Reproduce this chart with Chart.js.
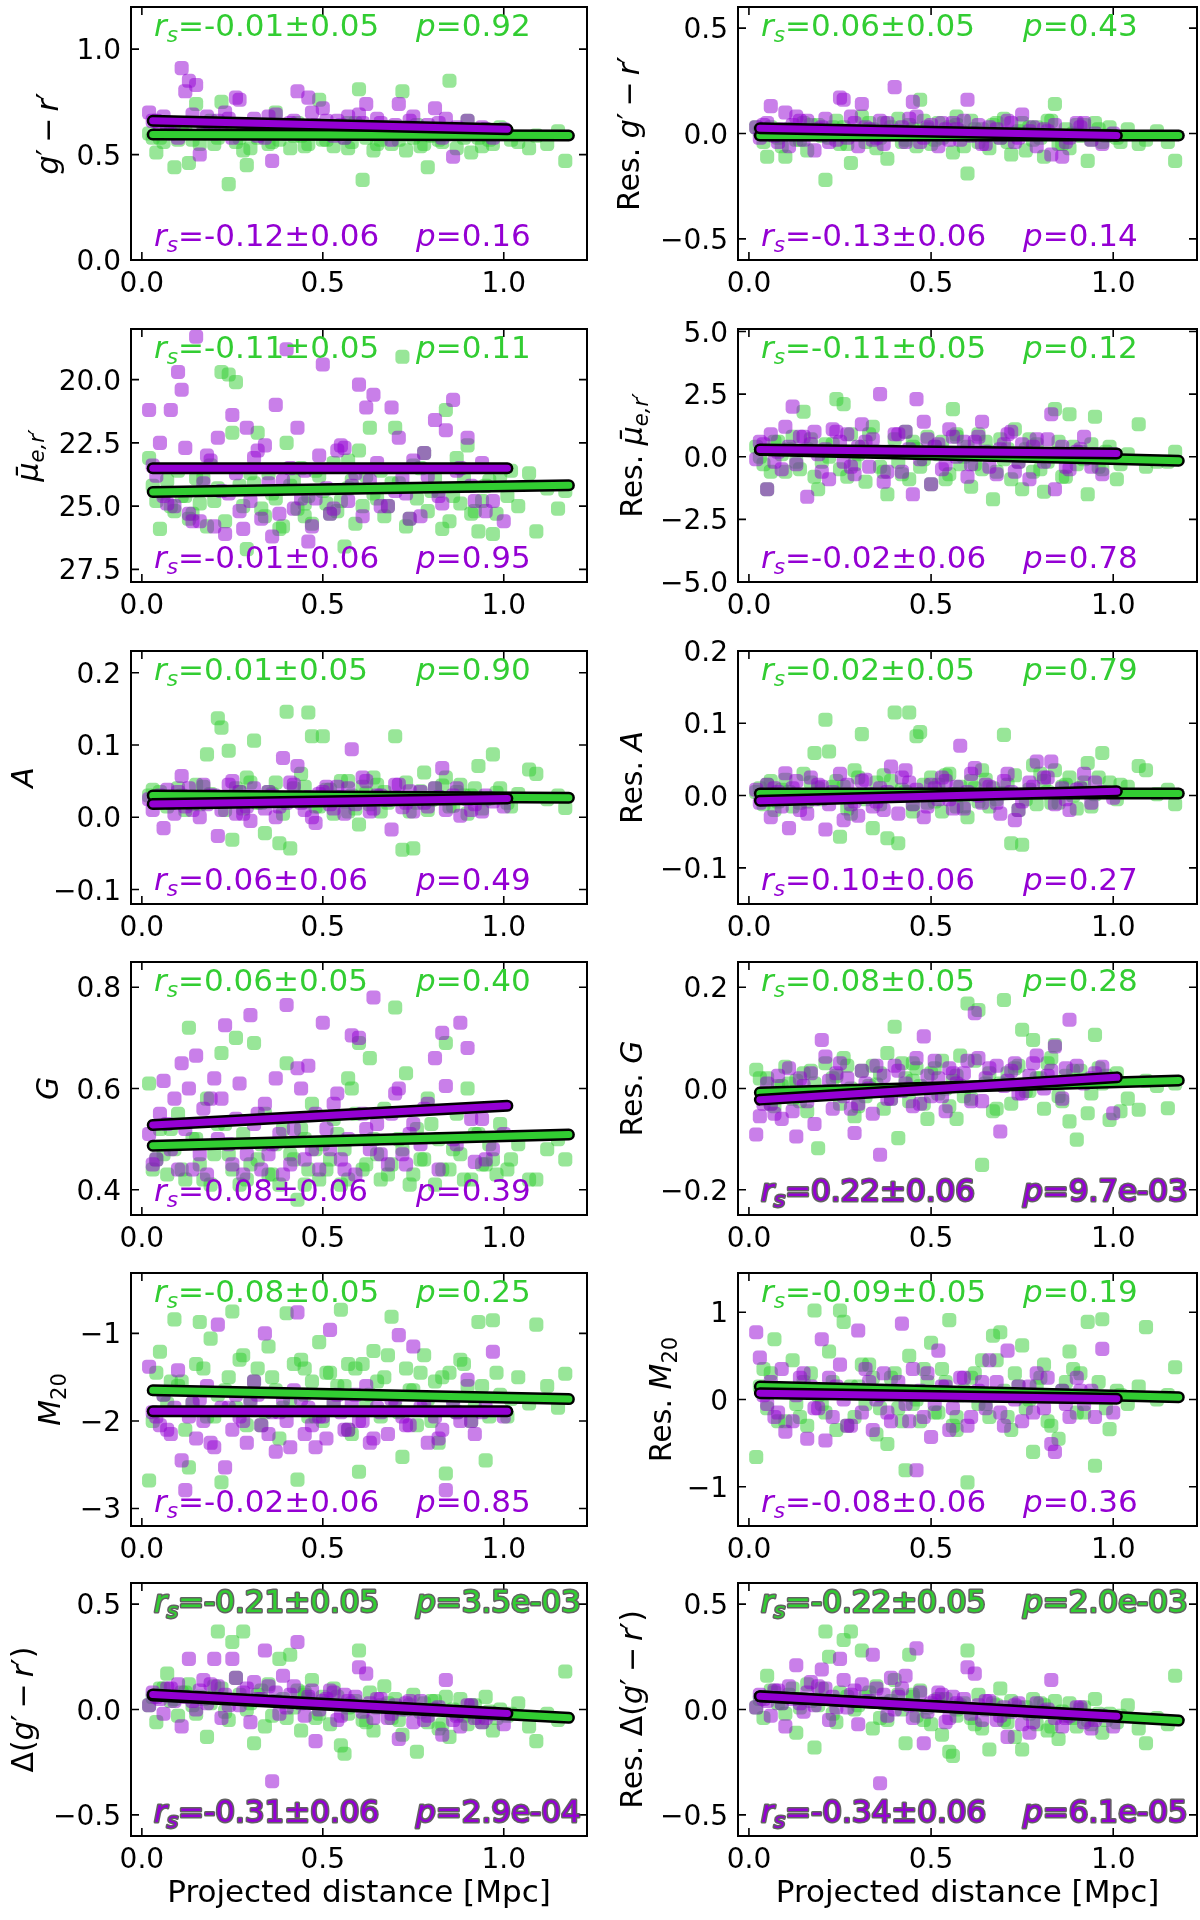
<!DOCTYPE html>
<html>
<head>
<meta charset="utf-8">
<script src="https://cdn.jsdelivr.net/npm/chart.js@4.4.1/dist/chart.umd.min.js"></script>
<style>
html, body { margin: 0; padding: 0; background: #fff; }
#fig { position: relative; width: 1200px; height: 1920px; overflow: hidden; background: #fff; }
#fig canvas { position: absolute; }
</style>
</head>
<body>
<div id="fig"></div>
<script>
// projected distance [Mpc] of each galaxy (same for every panel)
const GX = [0.02,0.04,0.05,0.07,0.09,0.10,0.12,0.13,0.15,0.16,
            0.18,0.19,0.21,0.22,0.24,0.25,0.26,0.28,0.29,0.31,
            0.32,0.34,0.35,0.37,0.38,0.40,0.41,0.43,0.44,0.46,
            0.47,0.49,0.50,0.52,0.53,0.55,0.56,0.58,0.60,0.61,
            0.63,0.64,0.66,0.67,0.69,0.70,0.72,0.73,0.75,0.76,
            0.78,0.79,0.81,0.82,0.84,0.85,0.87,0.88,0.90,0.91,
            0.93,0.95,0.97,0.99,1.01,1.04,1.07,1.09,1.12,1.15,
            1.17,0.57,
            0.11,0.14,0.17,0.20,0.23,0.27,0.30,0.33,0.36,0.39,
            0.42,0.45,0.48,0.51,0.54,0.57,0.59,0.62,0.65,0.68,
            0.71,0.74,0.77,0.80,0.83,0.86,0.89,0.92,0.94,0.96,
            0.98,0.06,0.08,0.03,1.02,0.45];
const PX = [0.02,0.03,0.05,0.06,0.08,0.09,0.10,0.11,0.12,0.13,
            0.15,0.16,0.17,0.18,0.20,0.21,0.22,0.23,0.25,0.26,
            0.27,0.29,0.30,0.31,0.33,0.34,0.36,0.37,0.39,0.40,
            0.42,0.43,0.45,0.46,0.48,0.50,0.52,0.54,0.56,0.58,
            0.60,0.62,0.64,0.66,0.69,0.71,0.73,0.75,0.77,0.79,
            0.81,0.83,0.84,0.86,0.88,0.90,0.92,0.94,0.97,1.00,
            0.04,0.07,0.14,0.19,0.24,0.28,0.32,0.35,0.38,0.41,
            0.44,0.47,0.49,0.51,0.53,0.55,0.57,0.59,0.61,0.63,
            0.65,0.68,0.70,0.72,0.74,0.78,0.82,0.87,0.91,0.95];

// x ends of the fitted lines
const FIT_XG = [0.03, 1.18];
const FIT_XP = [0.03, 1.01];

// g'-r'
const grG = [0.60,0.51,0.58,0.62,0.44,0.57,0.63,0.46,0.74,0.55,
             0.60,0.66,0.58,0.75,0.36,0.62,0.56,0.52,0.45,0.64,
             0.58,0.61,0.55,0.70,0.57,0.62,0.53,0.65,0.59,0.55,
             0.63,0.76,0.57,0.60,0.54,0.62,0.58,0.56,0.81,0.38,
             0.60,0.52,0.57,0.63,0.55,0.60,0.80,0.52,0.58,0.64,
             0.55,0.44,0.60,0.57,0.62,0.85,0.53,0.60,0.66,0.51,
             0.58,0.62,0.55,0.63,0.60,0.56,0.53,0.59,0.55,0.61,
             0.47,0.65,
             0.62,0.57,0.60,0.55,0.63,0.58,0.53,0.61,0.56,0.64,
             0.59,0.54,0.62,0.57,0.60,0.53,0.65,0.58,0.55,0.61,
             0.57,0.63,0.54,0.59,0.56,0.62,0.58,0.60,0.54,0.57,
             0.61,0.56,0.62,0.58,0.57,0.63];
const grP = [0.70,0.66,0.62,0.68,0.60,0.65,0.58,0.91,0.80,0.85,
             0.83,0.50,0.64,0.68,0.60,0.66,0.62,0.70,0.58,0.77,
             0.76,0.64,0.60,0.67,0.62,0.58,0.47,0.69,0.63,0.60,
             0.66,0.80,0.62,0.77,0.64,0.72,0.60,0.66,0.58,0.63,
             0.69,0.74,0.61,0.65,0.57,0.74,0.62,0.68,0.60,0.64,
             0.72,0.58,0.67,0.49,0.62,0.66,0.60,0.63,0.58,0.62,
             0.66,0.63,0.69,0.61,0.67,0.64,0.59,0.68,0.62,0.65,
             0.60,0.70,0.63,0.66,0.59,0.64,0.68,0.61,0.65,0.62,
             0.67,0.60,0.64,0.62,0.66,0.61,0.65,0.63,0.60,0.62];
const grFitG = [0.595, 0.59];
const grFitP = [0.66, 0.62];

// Res. g'-r'
const rgrG = [0.03,-0.04,-0.11,0.01,-0.06,-0.11,0.02,-0.03,0.05,-0.08,
              0.00,0.04,-0.22,-0.02,0.06,-0.05,0.03,-0.14,0.01,0.08,
              -0.04,0.02,-0.07,0.05,-0.12,0.00,0.07,-0.03,0.04,-0.06,
              0.16,0.02,-0.05,0.05,-0.02,0.03,-0.09,0.01,-0.19,0.06,
              -0.04,0.02,-0.07,0.04,-0.02,0.07,-0.10,0.00,0.05,-0.08,
              -0.03,0.03,-0.11,0.06,0.14,-0.05,0.02,-0.07,0.04,-0.01,
              -0.13,0.05,-0.04,0.03,-0.02,0.02,-0.05,-0.03,0.01,-0.04,
              -0.13,0.08,
              0.02,-0.03,0.04,-0.01,0.03,-0.05,0.01,0.05,-0.02,0.03,
              -0.04,0.02,0.06,-0.03,0.00,0.04,-0.06,0.02,-0.01,0.05,
              -0.04,0.01,0.03,-0.02,0.06,-0.05,0.00,0.04,-0.03,0.02,
              -0.01,0.03,-0.02,0.01,-0.04,0.00];
const rgrP = [0.03,-0.02,0.05,0.13,-0.04,0.02,0.10,-0.06,0.04,0.08,
              -0.03,0.06,0.00,-0.08,0.03,0.07,-0.04,0.01,0.17,0.16,
              -0.02,0.05,-0.06,0.14,0.02,-0.03,0.06,-0.05,0.01,0.22,
              0.03,-0.04,0.15,0.08,-0.02,0.04,-0.06,0.02,0.05,-0.03,
              0.16,0.00,-0.05,0.03,-0.02,0.06,-0.04,0.09,0.01,-0.06,
              0.02,-0.10,0.04,-0.11,-0.02,0.05,0.05,-0.03,-0.05,0.00,
              0.04,-0.01,0.06,0.02,-0.03,0.08,0.03,-0.02,0.05,0.01,
              0.07,-0.04,0.03,0.00,0.05,-0.03,0.02,0.06,-0.01,0.04,
              -0.05,0.02,0.00,0.05,-0.02,0.03,0.01,-0.04,0.03,0.00];
const rgrFitG = [-0.01, -0.01];
const rgrFitP = [0.025, -0.01];

// mean surface brightness
const muG = [23.1,24.8,25.9,24.0,25.2,23.6,24.6,25.5,23.9,24.9,
             25.8,23.4,24.3,19.7,19.8,22.1,20.1,25.0,26.7,24.1,
             22.1,25.4,23.7,24.7,25.9,22.5,24.2,25.1,23.5,24.6,
             25.7,23.8,24.4,25.3,23.3,24.8,26.6,24.0,22.8,25.0,
             21.9,24.5,23.6,25.4,24.1,21.9,19.1,25.8,23.4,24.7,
             22.9,25.2,23.9,24.4,21.2,25.6,23.1,24.9,22.6,25.3,
             26.0,24.2,26.1,23.8,24.6,25.0,23.7,26.0,24.3,25.1,
             24.4,23.2,
             24.6,25.3,23.9,24.8,25.6,24.2,23.7,25.1,24.5,25.8,
             24.0,25.4,23.6,24.9,25.2,24.3,25.7,23.8,24.7,25.0,
             24.1,25.5,23.5,24.4,25.9,24.6,23.9,25.2,24.8,24.0,
             25.3,24.5,25.0,24.2,23.6,24.9];
const muP = [21.2,23.4,22.5,24.6,21.2,25.0,19.7,20.4,22.7,25.3,
             18.3,25.6,24.1,23.0,25.8,22.3,24.4,26.1,21.4,23.7,
             25.2,21.9,24.8,23.1,25.5,22.6,26.2,21.0,24.0,18.8,
             25.1,21.9,23.6,26.4,24.7,19.4,25.3,22.8,22.7,24.2,
             20.2,21.1,20.6,25.0,21.1,22.3,24.5,23.2,25.4,23.8,
             21.6,24.9,22.0,20.8,23.5,22.3,24.8,23.3,24.8,25.6,
             23.8,24.9,25.6,23.2,24.5,25.9,22.8,24.1,25.3,23.5,
             24.7,25.8,23.0,24.3,25.1,22.6,24.8,23.7,25.4,24.0,
             23.3,25.0,24.4,23.9,25.5,22.9,24.6,23.6,24.2,25.2];
const muFitG = [24.44, 24.18];
const muFitP = [23.5, 23.5];

// Res. mean surface brightness
const rmuG = [0.4,-0.3,-1.3,0.6,0.1,-0.6,0.8,-0.2,1.8,0.3,
              -0.8,-1.3,0.5,0.0,2.3,-0.5,2.1,0.9,-0.3,0.4,
              -1.0,1.2,0.2,-0.6,-1.5,0.7,-0.2,1.0,-0.9,0.3,
              -0.4,0.8,-1.1,0.1,0.6,-0.7,1.9,-0.3,0.4,-1.2,
              0.9,-0.5,0.2,-1.7,0.7,-0.1,-0.9,1.1,-1.3,0.3,
              -0.6,0.5,-1.4,-0.2,1.9,0.6,-0.8,1.7,-0.3,0.2,
              -1.5,1.6,-0.5,0.4,-0.9,0.1,1.3,-0.4,-0.2,-0.2,
              0.2,0.9,
              0.3,-0.5,0.7,-0.2,0.5,-0.8,0.1,0.9,-0.4,0.2,
              -0.7,0.6,-0.1,0.4,-0.9,0.8,0.0,-0.3,0.6,-0.6,
              0.3,-0.2,0.7,-0.5,0.1,-0.8,0.4,-0.1,0.5,-0.4,
              0.2,-0.6,0.6,0.0,-0.3,0.4];
const rmuP = [-0.1,0.6,-1.3,0.9,0.2,-0.5,1.2,0.4,2.0,-0.3,
              0.8,-1.6,0.5,1.0,-0.6,0.3,-0.9,1.1,0.6,-0.2,
              0.9,-0.7,0.4,1.3,-0.4,0.7,2.5,-1.0,0.2,0.9,
              -0.6,1.0,-1.5,2.3,1.4,-1.1,0.5,-0.3,0.8,0.1,
              -0.8,0.6,1.4,-0.4,0.3,0.9,-0.6,0.5,-0.9,0.7,
              -0.2,1.7,-1.3,0.4,-0.5,0.2,0.8,-0.4,-0.7,0.1,
              0.5,-0.2,0.8,0.1,1.0,-0.4,0.6,0.2,-0.6,0.9,
              0.3,-0.1,0.7,0.4,-0.5,1.1,0.0,0.6,-0.3,0.8,
              0.2,-0.7,0.5,1.0,-0.2,0.4,0.7,-0.4,0.3,0.1];
const rmuFitG = [0.27, -0.16];
const rmuFitP = [0.29, 0.13];

// asymmetry A
const aG = [0.030,0.022,0.035,0.015,0.028,0.040,0.010,0.025,0.045,0.018,
            0.087,0.032,0.137,0.124,0.092,-0.031,0.040,0.012,0.055,0.106,
            0.020,-0.022,0.035,0.048,-0.036,0.146,-0.043,0.028,0.060,0.145,
            0.112,0.015,0.112,0.038,0.005,0.050,0.022,0.030,-0.010,0.042,
            0.018,0.055,0.008,0.035,0.025,0.112,-0.045,0.048,-0.043,0.020,
            0.062,0.010,0.040,0.028,0.055,0.015,0.035,0.045,0.005,0.030,
            0.071,0.025,0.087,0.040,0.020,0.032,0.066,0.060,0.025,0.030,
            0.013,0.008,
            0.030,0.018,0.042,0.025,0.010,0.035,0.048,0.020,0.032,0.005,
            0.040,0.022,0.015,0.038,0.028,0.050,0.012,0.033,0.045,0.020,
            0.027,0.008,0.036,0.024,0.044,0.016,0.030,0.040,0.012,0.026,
            0.034,0.028,0.020,0.038,0.015,0.042];
const aP = [0.025,0.010,0.030,-0.015,0.020,0.005,0.035,0.057,0.015,0.040,
            0.028,0.000,0.045,0.018,0.030,-0.026,0.010,0.022,0.050,0.005,
            0.035,0.015,-0.005,0.040,0.025,0.012,0.030,0.000,0.082,0.020,
            0.045,0.071,0.010,0.028,-0.008,0.035,0.018,0.042,0.005,0.094,
            0.025,0.050,0.012,0.030,-0.017,0.045,0.020,0.008,0.035,0.015,
            0.040,0.068,0.010,0.030,0.002,0.025,0.018,0.008,0.022,0.015,
            0.022,0.038,0.010,0.030,0.045,0.005,0.025,0.035,0.015,0.048,
            0.020,0.000,0.032,0.042,0.012,0.028,0.040,0.018,0.055,0.008,
            0.030,0.024,0.045,0.014,0.036,0.020,0.028,0.040,0.010,0.030];
const aFitG = [0.030, 0.027];
const aFitP = [0.0185, 0.026];

// Res. A
const raG = [0.005,-0.012,0.015,-0.020,0.008,0.022,-0.015,0.000,0.030,-0.008,
             0.059,0.010,0.105,0.061,0.020,-0.057,0.012,-0.025,0.035,0.085,
             -0.005,-0.045,0.018,0.028,-0.059,0.115,-0.066,0.005,0.115,0.082,
             0.088,-0.010,0.025,0.015,-0.022,0.030,0.002,0.012,-0.030,0.020,
             -0.008,0.035,-0.015,0.010,0.003,0.084,-0.066,0.028,-0.068,-0.005,
             0.042,-0.012,0.020,0.005,0.035,-0.010,0.015,0.025,-0.018,0.010,
             0.045,0.002,0.059,0.018,-0.005,0.012,0.041,0.035,0.002,0.008,
             -0.012,-0.015,
             0.005,-0.010,0.018,-0.005,0.012,-0.018,0.025,0.000,-0.012,0.020,
             0.008,-0.022,0.015,-0.008,0.028,0.002,-0.015,0.010,0.022,-0.005,
             0.015,-0.020,0.008,0.030,-0.010,0.012,0.000,0.018,-0.015,0.025,
             0.005,0.020,-0.008,0.010,0.015,-0.012];
const raP = [0.008,-0.010,0.015,-0.030,0.005,-0.015,0.031,-0.045,0.010,0.020,
             0.000,-0.025,0.025,-0.005,0.012,-0.047,-0.012,0.005,0.030,-0.034,
             0.015,-0.008,-0.028,0.020,0.002,-0.015,0.010,-0.020,0.040,0.000,
             0.025,0.035,-0.012,0.008,-0.030,0.015,-0.005,0.020,-0.018,0.069,
             0.005,0.038,-0.010,0.012,-0.025,0.030,-0.034,-0.008,0.018,0.047,
             0.025,0.047,-0.012,0.010,-0.020,0.008,0.030,-0.010,0.005,-0.003,
             -0.005,0.010,-0.020,0.015,0.000,-0.012,0.022,-0.008,0.005,-0.025,
             0.018,0.002,-0.015,0.010,0.025,-0.005,0.012,-0.018,0.030,0.000,
             0.015,-0.010,0.020,0.005,-0.020,0.012,0.025,-0.005,0.010,0.018];
const raFitG = [0.003, 0.003];
const raFitP = [-0.007, 0.006];

// Gini G
const gG = [0.61,0.46,0.52,0.43,0.48,0.55,0.42,0.72,0.50,0.45,
            0.58,0.41,0.53,0.67,0.47,0.44,0.70,0.51,0.42,0.69,
            0.46,0.55,0.43,0.49,0.41,0.65,0.47,0.38,0.52,0.44,
            0.57,0.42,0.49,0.46,0.54,0.41,0.48,0.60,0.69,0.44,
            0.66,0.50,0.42,0.56,0.45,0.76,0.48,0.63,0.43,0.52,
            0.46,0.58,0.41,0.50,0.69,0.44,0.55,0.47,0.60,0.42,
            0.51,0.45,0.46,0.53,0.44,0.49,0.42,0.42,0.48,0.50,
            0.46,0.62,
            0.44,0.50,0.42,0.47,0.53,0.41,0.45,0.49,0.43,0.52,
            0.46,0.41,0.48,0.44,0.51,0.42,0.55,0.45,0.47,0.43,
            0.50,0.41,0.46,0.53,0.44,0.48,0.42,0.51,0.45,0.49,
            0.43,0.47,0.52,0.44,0.46,0.50];
const gP = [0.51,0.45,0.55,0.615,0.48,0.58,0.44,0.65,0.52,0.60,
            0.665,0.47,0.56,0.43,0.62,0.50,0.58,0.725,0.45,0.54,
            0.61,0.47,0.745,0.53,0.44,0.57,0.49,0.62,0.43,0.765,
            0.52,0.64,0.46,0.645,0.55,0.73,0.48,0.59,0.44,0.705,
            0.70,0.52,0.78,0.47,0.55,0.60,0.45,0.53,0.49,0.57,
            0.66,0.71,0.605,0.50,0.73,0.68,0.455,0.54,0.48,0.51,
            0.46,0.53,0.44,0.58,0.49,0.43,0.55,0.47,0.51,0.45,
            0.60,0.48,0.44,0.52,0.57,0.46,0.50,0.43,0.55,0.48,
            0.53,0.45,0.59,0.47,0.51,0.56,0.44,0.49,0.54,0.46];
const gFitG = [0.487, 0.509];
const gFitP = [0.528, 0.566];

// Res. G
const rgG = [0.037,-0.010,0.020,-0.035,0.005,0.043,-0.020,0.015,0.030,-0.045,
             0.010,-0.118,0.050,-0.005,0.025,-0.030,0.060,0.000,-0.055,0.035,
             -0.015,0.045,0.008,-0.040,0.070,0.122,-0.098,0.020,-0.025,0.040,
             0.005,-0.060,0.030,-0.010,0.055,-0.035,0.015,0.065,0.168,-0.020,
             0.155,-0.151,0.030,-0.045,0.010,0.175,-0.030,0.040,0.116,-0.005,
             0.096,0.020,-0.040,0.050,0.086,-0.015,0.025,-0.065,-0.101,0.035,
             -0.049,0.106,0.010,-0.062,0.030,-0.020,-0.042,0.015,0.005,-0.039,
             0.010,-0.060,
             0.010,-0.025,0.035,-0.010,0.020,0.045,-0.035,0.005,0.030,-0.020,
             0.050,0.015,-0.030,0.040,0.000,0.025,-0.015,0.055,0.010,-0.040,
             0.030,0.045,-0.005,0.020,0.060,-0.025,0.035,0.015,-0.010,0.040,
             0.025,-0.030,0.005,0.020,-0.045,0.050];
const rgP = [-0.091,-0.055,0.010,-0.030,0.025,-0.060,-0.010,0.040,-0.045,-0.095,
             0.005,-0.025,0.030,-0.070,0.096,0.063,0.015,-0.040,0.050,-0.015,
             0.020,-0.088,-0.030,0.035,0.000,-0.050,-0.131,0.025,-0.020,0.045,
             -0.005,0.010,-0.035,0.060,0.103,-0.015,0.020,-0.045,0.030,0.005,
             0.055,0.149,-0.025,0.040,-0.085,0.015,0.050,-0.010,0.025,0.065,
             0.000,0.035,0.083,-0.020,0.136,0.045,0.010,0.020,0.043,-0.049,
             -0.030,-0.050,0.020,-0.010,0.030,-0.040,0.010,0.045,-0.020,0.035,
             0.000,-0.030,0.025,0.055,-0.015,0.040,0.010,0.030,-0.025,0.060,
             0.020,0.045,0.005,0.035,-0.010,0.050,0.025,0.040,0.015,0.030];
const rgFitG = [-0.008, 0.016];
const rgFitP = [-0.022, 0.022];

// M20
const mG = [-2.68,-1.45,-1.21,-1.80,-0.84,-1.60,-2.10,-2.53,-1.35,-0.87,
            -1.95,-1.06,-1.70,-2.70,-1.50,-0.75,-1.85,-1.25,-2.05,-1.55,
            -1.40,-1.90,-1.15,-1.65,-2.20,-0.77,-1.75,-2.67,-1.30,-1.95,
            -1.55,-1.10,-2.00,-1.45,-1.80,-0.73,-1.60,-2.15,-2.58,-1.35,
            -1.70,-1.20,-1.95,-1.50,-0.81,-1.85,-2.41,-1.40,-1.65,-2.05,
            -1.25,-1.75,-1.55,-2.25,-2.60,-1.45,-1.90,-1.30,-1.60,-2.00,
            -0.87,-2.45,-0.85,-1.70,-1.95,-1.50,-1.80,-0.90,-1.60,-1.85,
            -1.46,-1.35,
            -1.55,-1.80,-1.40,-1.95,-1.65,-1.30,-1.75,-2.05,-1.50,-1.85,
            -1.35,-1.70,-1.95,-1.45,-1.60,-2.10,-1.40,-1.80,-1.55,-1.25,
            -1.90,-1.65,-1.45,-2.00,-1.50,-1.75,-1.35,-1.85,-1.60,-1.95,
            -1.45,-1.70,-1.55,-2.00,-1.75,-1.40];
const mP = [-1.38,-1.90,-2.05,-1.70,-2.15,-1.85,-1.42,-2.45,-2.79,-1.95,
            -2.20,-1.75,-2.00,-1.60,-2.30,-0.90,-1.85,-2.53,-2.10,-1.70,
            -1.95,-2.25,-1.80,-1.55,-2.05,-1.00,-1.90,-2.35,-1.75,-2.00,
            -1.65,-0.76,-2.15,-1.85,-2.30,-1.95,-0.96,-1.70,-2.10,-1.80,
            -2.00,-1.60,-2.20,-1.90,-1.75,-1.02,-2.05,-1.15,-1.85,-2.25,
            -1.95,-2.10,-2.79,-1.80,-2.00,-1.53,-2.15,-1.90,-1.21,-1.95,
            -1.95,-2.10,-1.80,-2.25,-1.85,-2.00,-1.70,-2.15,-1.90,-2.30,
            -1.75,-2.05,-1.95,-2.20,-1.80,-1.90,-2.10,-1.70,-2.00,-2.25,
            -1.85,-2.15,-1.75,-1.95,-2.05,-1.80,-2.20,-1.90,-2.00,-1.85];
const mFitG = [-1.65, -1.75];
const mFitP = [-1.89, -1.89];

// Res. M20
const rmG = [-0.66,0.35,-0.10,0.69,0.10,-0.25,0.45,-0.05,0.20,-0.30,
             1.02,0.05,-0.15,0.55,-0.35,1.02,0.89,0.15,-0.20,0.40,
             -0.05,0.25,-0.40,0.10,-0.51,0.30,-0.10,-0.81,0.50,0.00,
             -0.25,0.20,0.65,-0.15,0.35,0.91,-0.30,0.05,-0.95,0.25,
             -0.05,0.45,-0.20,0.73,0.77,0.10,-0.35,0.30,0.62,-0.10,
             -0.60,0.15,0.40,-0.25,0.05,-0.45,0.20,0.55,-0.15,0.30,
             0.89,-0.76,0.92,-0.34,0.10,-0.05,0.15,0.83,0.00,0.05,
             0.37,-0.20,
             0.10,-0.20,0.30,-0.05,0.20,-0.30,0.15,0.40,-0.10,0.25,
             -0.25,0.05,0.35,-0.15,0.20,-0.35,0.10,0.30,-0.05,0.45,
             -0.20,0.15,0.00,0.25,-0.30,0.10,0.35,-0.15,0.05,0.20,
             -0.10,0.30,-0.25,0.15,0.05,-0.05];
const rmP = [0.77,0.48,-0.05,0.20,-0.15,0.35,-0.37,0.10,-0.25,0.05,
             0.30,-0.45,0.15,-0.10,0.69,-0.47,0.25,-0.20,0.40,0.00,
             -0.30,0.10,0.79,-0.15,0.20,-0.35,0.05,0.30,-0.25,0.10,
             0.87,-0.05,0.35,-0.81,-0.20,-0.43,0.56,0.15,-0.10,0.25,
             -0.30,0.05,0.20,0.45,-0.15,0.56,0.00,-0.25,0.15,0.30,
             -0.10,-0.51,-0.60,0.10,-0.20,0.25,-0.05,0.10,0.58,-0.15,
             0.05,-0.20,0.25,-0.10,0.15,-0.30,0.35,0.00,-0.15,0.20,
             -0.25,0.10,0.30,-0.05,0.15,-0.35,0.05,0.25,-0.20,0.10,
             -0.10,0.20,-0.30,0.05,0.15,-0.15,0.25,-0.05,0.10,-0.20];
const rmFitG = [0.149, 0.027];
const rmFitP = [0.073, 0.008];

// colour gradient residual
const dG = [0.02,-0.06,0.10,0.17,0.05,-0.03,0.08,0.12,-0.02,0.06,
            -0.13,0.03,0.37,0.10,-0.05,0.32,0.15,0.37,0.00,-0.16,
            0.07,-0.08,0.12,0.04,0.24,-0.04,0.26,0.09,-0.10,0.05,
            0.14,-0.02,0.06,-0.07,0.10,-0.17,-0.21,0.03,0.28,-0.05,
            0.08,-0.10,0.02,0.11,-0.04,0.05,-0.12,0.00,0.07,-0.20,
            0.03,-0.06,0.04,-0.09,0.06,-0.13,-0.02,0.05,-0.07,0.02,
            -0.04,0.06,-0.10,0.00,-0.03,0.03,-0.08,-0.15,-0.02,-0.05,
            0.18,0.01,
            0.08,0.02,0.05,0.11,-0.01,0.07,0.03,0.09,-0.03,0.05,
            0.01,0.07,-0.04,0.03,0.06,-0.02,0.04,-0.06,0.01,0.03,
            -0.05,0.02,-0.01,0.04,-0.07,0.00,-0.03,0.02,-0.06,-0.01,
            -0.04,0.10,0.04,0.06,-0.02,0.08];
const dP = [0.02,0.08,0.05,-0.02,0.10,0.04,0.12,-0.08,0.06,0.24,
            0.00,0.09,0.14,0.03,0.24,0.11,-0.04,0.07,0.24,0.15,
            0.02,0.10,-0.06,0.13,0.05,0.28,-0.34,0.08,0.16,0.01,
            0.11,0.32,-0.03,0.06,-0.15,0.04,0.09,-0.05,0.07,0.02,
            0.20,0.17,-0.04,0.05,-0.02,-0.14,0.03,-0.06,0.04,-0.03,
            0.00,-0.12,0.14,-0.05,-0.08,0.02,-0.04,-0.06,-0.02,-0.07,
            0.06,0.10,0.04,0.12,0.02,0.08,0.05,0.11,-0.02,0.07,
            0.03,0.09,0.00,0.05,0.08,-0.03,0.04,0.06,-0.01,0.03,
            0.05,-0.04,0.02,0.00,0.04,-0.05,0.01,-0.03,0.02,-0.04];
const dFitG = [0.066, -0.039];
const dFitP = [0.071, -0.019];

// Res. colour gradient
const rdG = [0.01,-0.04,0.16,0.08,0.03,-0.02,0.10,-0.11,0.05,0.12,
             -0.18,0.02,0.37,0.25,-0.06,0.08,0.33,0.37,0.00,0.28,
             0.06,-0.09,0.11,0.03,-0.05,0.14,0.07,-0.16,0.26,-0.03,
             0.09,0.01,-0.07,0.05,-0.12,-0.20,-0.22,0.02,0.28,-0.04,
             0.07,-0.09,-0.19,0.03,0.10,-0.05,0.04,-0.13,-0.19,0.01,
             0.05,-0.07,0.02,-0.10,0.04,-0.14,-0.03,0.03,-0.08,0.00,
             -0.05,0.05,-0.11,-0.02,-0.06,0.02,-0.09,-0.16,-0.04,-0.07,
             0.16,0.00,
             0.07,0.01,0.04,0.10,-0.02,0.06,0.02,0.08,-0.04,0.04,
             0.00,0.06,-0.05,0.02,0.05,-0.03,0.03,-0.07,0.00,0.02,
             -0.06,0.01,-0.02,0.03,-0.08,-0.01,-0.04,0.01,-0.07,-0.02,
             -0.05,0.09,0.03,0.05,-0.03,0.07];
const rdP = [0.01,0.07,0.04,-0.03,0.09,0.03,-0.08,0.11,0.05,0.21,
             -0.01,0.08,0.13,0.02,0.19,0.10,-0.05,0.06,0.24,0.14,
             0.01,0.09,-0.07,0.12,0.04,0.26,-0.35,0.07,0.15,0.00,
             0.10,0.16,-0.04,0.29,-0.16,0.03,0.08,-0.06,0.06,0.01,
             0.20,0.17,-0.05,0.04,-0.03,-0.13,0.02,-0.07,-0.11,0.03,
             -0.01,0.14,-0.04,-0.08,-0.03,0.01,-0.06,-0.09,-0.03,-0.08,
             0.05,0.09,0.03,0.11,0.01,0.07,0.04,0.10,-0.03,0.06,
             0.02,0.08,-0.01,0.04,0.07,-0.04,0.03,0.05,-0.02,0.02,
             0.04,-0.05,0.01,-0.01,0.03,-0.06,0.00,-0.04,0.01,-0.05];
const rdFitG = [0.063, -0.052];
const rdFitP = [0.063, -0.032];

// Spearman statistics: [green rs, green p, purple rs, purple p]
const ST_GR  = ['-0.01±0.05', '0.92', '-0.12±0.06', '0.16'];
const ST_RGR = ['0.06±0.05', '0.43', '-0.13±0.06', '0.14'];
const ST_MU  = ['-0.11±0.05', '0.11', '-0.01±0.06', '0.95'];
const ST_RMU = ['-0.11±0.05', '0.12', '-0.02±0.06', '0.78'];
const ST_A   = ['0.01±0.05', '0.90', '0.06±0.06', '0.49'];
const ST_RA  = ['0.02±0.05', '0.79', '0.10±0.06', '0.27'];
const ST_G   = ['0.06±0.05', '0.40', '0.08±0.06', '0.39'];
const ST_RG  = ['0.08±0.05', '0.28', '0.22±0.06', '9.7e-03'];
const ST_M   = ['-0.08±0.05', '0.25', '-0.02±0.06', '0.85'];
const ST_RM  = ['-0.09±0.05', '0.19', '-0.08±0.06', '0.36'];
const ST_D   = ['-0.21±0.05', '3.5e-03', '-0.31±0.06', '2.9e-04'];
const ST_RD  = ['-0.22±0.05', '2.0e-03', '-0.34±0.06', '6.1e-05'];

// y labels (mathtext pieces)
const LBL_GR = [{t:'g',it:1},{t:'′'},{t:'\u2009−\u2009'},{t:'r',it:1},{t:'′'}];
const LBL_MU = [{t:'μ\u0304',it:1},{t:'e,r′',it:1,sub:1}];
const LBL_A  = [{t:'A',it:1}];
const LBL_G  = [{t:'G',it:1}];
const LBL_M  = [{t:'M',it:1},{t:'20',sub:1}];
const LBL_D  = [{t:'Δ('}].concat(LBL_GR, [{t:')'}]);
const RES = [{t:'Res. '}];

// layout (pixels)
const PADL = 135, PADR = 12, PADT = 14, PADB = 90;
const COL_LEFT = [131, 738], COL_W = [456, 459];
const ROW_TOP = [7, 329, 651, 962, 1273, 1583], AX_H = 253;
const X_MIN = -0.03, X_MAX = 1.23, X_TICKS = [0, 0.5, 1.0];

const GREEN = '#32cd32', PURPLE = '#9400d3';
const GREEN_A = 'rgba(50,205,50,0.5)', PURPLE_A = 'rgba(148,0,211,0.5)';
const TICK_FS = 28, TEXT_FS = 31, LABEL_FS = 30, XLABEL_FS = 31;

const PANELS = [
  { g: grG,  p: grP,  fg: grFitG,  fp: grFitP,  lim: [0, 1.2],      ticks: [0, 0.5, 1.0], dec: 1, label: LBL_GR, dx: -84, st: ST_GR, bold: [0, 0] },
  { g: rgrG, p: rgrP, fg: rgrFitG, fp: rgrFitP, lim: [-0.6, 0.6],   ticks: [-0.5, 0, 0.5], dec: 1, label: RES.concat(LBL_GR), dx: -110, st: ST_RGR, bold: [0, 0] },
  { g: muG,  p: muP,  fg: muFitG,  fp: muFitP,  lim: [18.0, 28.0],  ticks: [20, 22.5, 25, 27.5], dec: 1, rev: true, label: LBL_MU, dx: -104, st: ST_MU, bold: [0, 0] },
  { g: rmuG, p: rmuP, fg: rmuFitG, fp: rmuFitP, lim: [-5.0, 5.1],   ticks: [-5, -2.5, 0, 2.5, 5], dec: 1, label: RES.concat(LBL_MU), dx: -107, st: ST_RMU, bold: [0, 0] },
  { g: aG,   p: aP,   fg: aFitG,   fp: aFitP,   lim: [-0.12, 0.23], ticks: [-0.1, 0, 0.1, 0.2], dec: 1, label: LBL_A, dx: -109, st: ST_A, bold: [0, 0] },
  { g: raG,  p: raP,  fg: raFitG,  fp: raFitP,  lim: [-0.15, 0.2],  ticks: [-0.1, 0, 0.1, 0.2], dec: 1, label: RES.concat(LBL_A), dx: -107, st: ST_RA, bold: [0, 0] },
  { g: gG,   p: gP,   fg: gFitG,   fp: gFitP,   lim: [0.35, 0.85],  ticks: [0.4, 0.6, 0.8], dec: 1, label: LBL_G, dx: -84, st: ST_G, bold: [0, 0] },
  { g: rgG,  p: rgP,  fg: rgFitG,  fp: rgFitP,  lim: [-0.25, 0.25], ticks: [-0.2, 0, 0.2], dec: 1, label: RES.concat(LBL_G), dx: -107, st: ST_RG, bold: [0, 1] },
  { g: mG,   p: mP,   fg: mFitG,   fp: mFitP,   lim: [-3.2, -0.31], ticks: [-3, -2, -1], dec: 0, label: LBL_M, dx: -82, st: ST_M, bold: [0, 0] },
  { g: rmG,  p: rmP,  fg: rmFitG,  fp: rmFitP,  lim: [-1.45, 1.45], ticks: [-1, 0, 1], dec: 0, label: RES.concat(LBL_M), dx: -78, st: ST_RM, bold: [0, 0] },
  { g: dG,   p: dP,   fg: dFitG,   fp: dFitP,   lim: [-0.6, 0.6],   ticks: [-0.5, 0, 0.5], dec: 1, label: LBL_D, dx: -109, st: ST_D, bold: [1, 1] },
  { g: rdG,  p: rdP,  fg: rdFitG,  fp: rdFitP,  lim: [-0.6, 0.6],   ticks: [-0.5, 0, 0.5], dec: 1, label: RES.concat(LBL_D), dx: -107, st: ST_RD, bold: [1, 1] }
];

function fmt(v, dec) {
  return v.toFixed(dec).replace('-', '−');
}

// draws a list of text pieces (italic / subscript) from a baseline point
function drawRich(ctx, parts, x, y, size, align, outline) {
  const fonts = parts.map(p => (p.it ? 'italic ' : '') + (p.sub ? size * 0.7 : size) + 'px "DejaVu Sans"');
  let w = 0;
  parts.forEach((p, i) => { ctx.font = fonts[i]; w += ctx.measureText(p.t).width; });
  let cx = align === 'center' ? x - w / 2 : (align === 'right' ? x - w : x);
  ctx.textAlign = 'left';
  ctx.textBaseline = 'alphabetic';
  parts.forEach((p, i) => {
    ctx.font = fonts[i];
    const yy = y + (p.sub ? size * 0.2 : 0);
    if (outline) {
      ctx.lineWidth = 3;
      ctx.lineJoin = 'round';
      ctx.strokeStyle = outline;
      ctx.strokeText(p.t, cx, yy);
    }
    ctx.fillText(p.t, cx, yy);
    cx += ctx.measureText(p.t).width;
  });
}

function framePlugin(panel, lastRow) {
  return {
    id: 'frame',
    afterDraw(chart) {
      const ctx = chart.ctx, a = chart.chartArea;
      const xs = chart.scales.x, ys = chart.scales.y;
      ctx.save();

      // inward ticks on all four sides
      ctx.strokeStyle = '#000';
      ctx.lineWidth = 1.6;
      ctx.beginPath();
      xs.ticks.forEach(t => {
        const px = xs.getPixelForValue(t.value);
        ctx.moveTo(px, a.bottom); ctx.lineTo(px, a.bottom - 8);
        ctx.moveTo(px, a.top); ctx.lineTo(px, a.top + 8);
      });
      ys.ticks.forEach(t => {
        const py = ys.getPixelForValue(t.value);
        ctx.moveTo(a.left, py); ctx.lineTo(a.left + 8, py);
        ctx.moveTo(a.right, py); ctx.lineTo(a.right - 8, py);
      });
      ctx.stroke();

      ctx.lineWidth = 2;
      ctx.strokeRect(a.left, a.top, a.right - a.left, a.bottom - a.top);

      // tick labels
      ctx.fillStyle = '#000';
      ctx.font = TICK_FS + 'px "DejaVu Sans"';
      ctx.textBaseline = 'alphabetic';
      ctx.textAlign = 'center';
      xs.ticks.forEach(t => {
        ctx.fillText(fmt(t.value, 1), xs.getPixelForValue(t.value), a.bottom + 32);
      });
      ctx.textAlign = 'right';
      ys.ticks.forEach(t => {
        ctx.fillText(fmt(t.value, panel.dec), a.left - 10, ys.getPixelForValue(t.value) + 10);
      });

      // y label
      ctx.save();
      ctx.translate(a.left + panel.dx, (a.top + a.bottom) / 2);
      ctx.rotate(-Math.PI / 2);
      ctx.fillStyle = '#000';
      drawRich(ctx, panel.label, 0, LABEL_FS * 0.36, LABEL_FS, 'center');
      ctx.restore();

      if (lastRow) {
        ctx.fillStyle = '#000';
        drawRich(ctx, [{t: 'Projected distance [Mpc]'}], (a.left + a.right) / 2, a.bottom + 66, XLABEL_FS, 'center');
      }

      // correlation statistics
      const st = panel.st;
      const og = panel.bold[0] ? 'rgba(70,70,70,0.85)' : null;
      const op = panel.bold[1] ? 'rgba(70,70,70,0.85)' : null;
      ctx.fillStyle = GREEN;
      drawRich(ctx, [{t:'r',it:1},{t:'s',it:1,sub:1},{t:'=' + st[0]}], a.left + 23, a.top + 29, TEXT_FS, 'left', og);
      drawRich(ctx, [{t:'p',it:1},{t:'=' + st[1]}], a.left + 285, a.top + 29, TEXT_FS, 'left', og);
      ctx.fillStyle = PURPLE;
      drawRich(ctx, [{t:'r',it:1},{t:'s',it:1,sub:1},{t:'=' + st[2]}], a.left + 23, a.bottom - 14, TEXT_FS, 'left', op);
      drawRich(ctx, [{t:'p',it:1},{t:'=' + st[3]}], a.left + 285, a.bottom - 14, TEXT_FS, 'left', op);

      ctx.restore();
    }
  };
}

function points(xs, ys) {
  return xs.map((x, i) => ({ x: x, y: ys[i] }));
}

function makePanel(panel, idx) {
  const col = idx % 2, row = Math.floor(idx / 2);
  const w = PADL + COL_W[col] + PADR, h = PADT + AX_H + PADB;
  const canvas = document.createElement('canvas');
  canvas.width = w; canvas.height = h;
  canvas.style.width = w + 'px'; canvas.style.height = h + 'px';
  canvas.style.left = (COL_LEFT[col] - PADL) + 'px';
  canvas.style.top = (ROW_TOP[row] - PADT) + 'px';
  document.getElementById('fig').appendChild(canvas);

  const square = { pointStyle: 'rectRounded', pointRadius: 8.2, borderWidth: 0, pointBorderWidth: 0, pointHoverRadius: 8.2 };
  const fitLine = (data, color, width, order) => ({
    type: 'line', data: data, borderColor: color, borderWidth: width, borderCapStyle: 'round',
    pointRadius: 0, fill: false, tension: 0, order: order
  });

  new Chart(canvas, {
    type: 'scatter',
    data: {
      datasets: [
        Object.assign({ data: points(GX, panel.g), backgroundColor: GREEN_A, order: 5 }, square),
        Object.assign({ data: points(PX, panel.p), backgroundColor: PURPLE_A, order: 4 }, square),
        fitLine(points(FIT_XG, panel.fg), '#000', 12, 3),
        fitLine(points(FIT_XG, panel.fg), GREEN, 7, 2),
        fitLine(points(FIT_XP, panel.fp), '#000', 12, 1),
        fitLine(points(FIT_XP, panel.fp), PURPLE, 7, 0)
      ]
    },
    options: {
      responsive: false,
      animation: false,
      devicePixelRatio: 1,
      events: [],
      layout: { padding: { top: PADT, right: PADR, left: 0, bottom: 0 } },
      plugins: { legend: { display: false }, tooltip: { enabled: false } },
      scales: {
        x: {
          type: 'linear', min: X_MIN, max: X_MAX, bounds: 'data',
          grid: { display: false }, border: { display: false }, ticks: { display: false },
          afterBuildTicks: s => { s.ticks = X_TICKS.map(v => ({ value: v })); },
          afterFit: s => { s.height = PADB; s.paddingLeft = 0; s.paddingRight = 0; }
        },
        y: {
          type: 'linear', min: panel.lim[0], max: panel.lim[1], reverse: !!panel.rev, bounds: 'data',
          grid: { display: false }, border: { display: false }, ticks: { display: false },
          afterBuildTicks: s => { s.ticks = panel.ticks.map(v => ({ value: v })); },
          afterFit: s => { s.width = PADL; s.paddingTop = 0; s.paddingBottom = 0; }
        }
      }
    },
    plugins: [framePlugin(panel, row === 5)]
  });
}

PANELS.forEach(makePanel);
</script>
</body>
</html>
